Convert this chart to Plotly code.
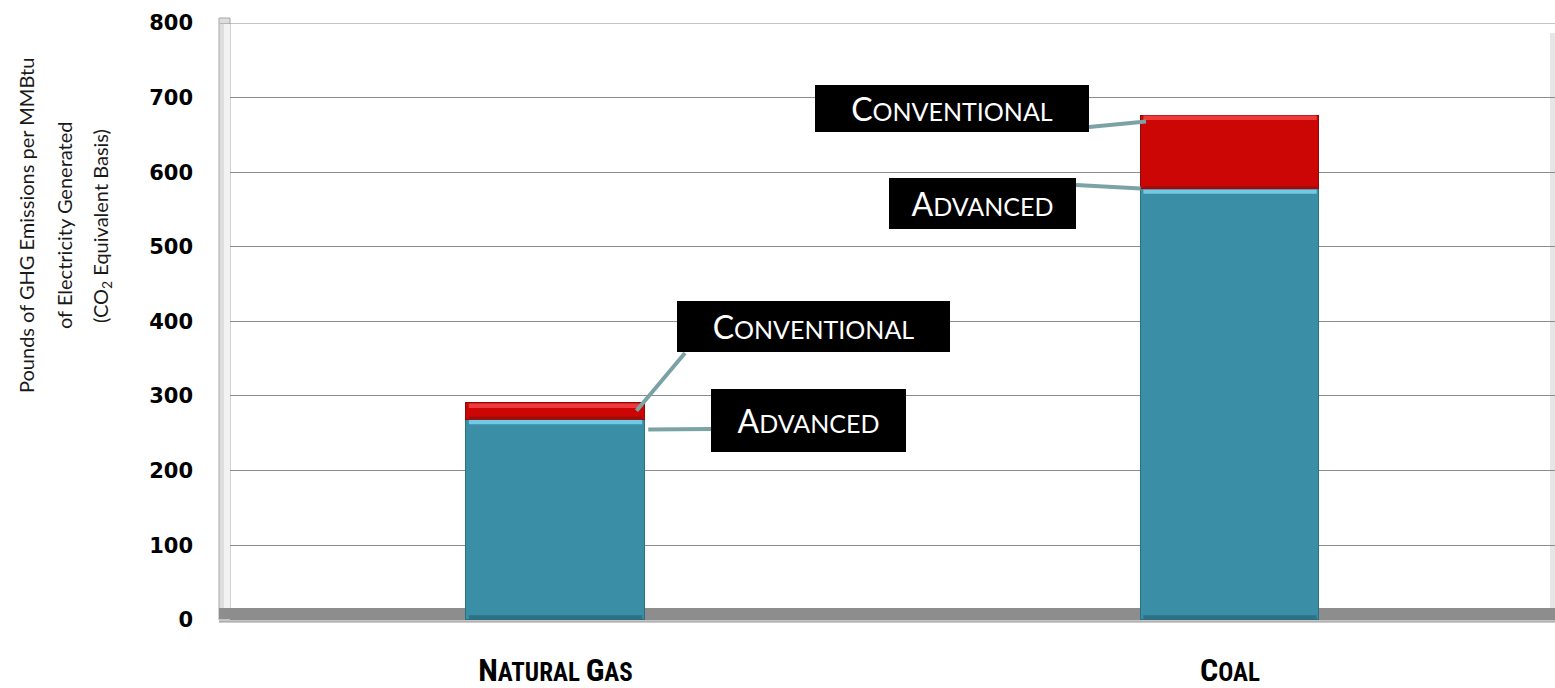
import plotly.graph_objects as go

# ---------------- data ----------------
categories = ["Natural Gas", "Coal"]
advanced = [268, 577]              # lbs CO2e / MMBtu, advanced technology
conventional_extra = [22, 99]      # additional amount for conventional technology
y_tick_values = [0, 100, 200, 300, 400, 500, 600, 700, 800]
y_title_lines = ["Pounds of GHG Emissions per MMBtu",
                 "of Electricity Generated",
                 "(CO<sub>2</sub> Equivalent Basis)"]

totals = [a + c for a, c in zip(advanced, conventional_extra)]
xpos = list(range(len(categories)))

# ---------------- geometry helpers (layout only) ----------------
W, H = 1555, 688
ML, MR, MT, MB = 230, 0, 23, 66
PW, PH = W - ML - MR, H - MT - MB
XR = [-0.4826, 1.4818]
YR = [-3, 800]
BAR_W = 0.265


def px_x(px):   # pixel -> x data
    return XR[0] + (px - ML) / PW * (XR[1] - XR[0])


def px_y(py):   # pixel -> y data
    return YR[1] - (py - MT) / PH * (YR[1] - YR[0])


def pap_x(px):
    return (px - ML) / PW


def pap_y(py):
    return (H - MB - py) / PH


def small_caps(text, big, small):
    out = []
    for word in text.split(" "):
        out.append(f"<span style='font-size:{big}px'>{word[0].upper()}</span>"
                   f"<span style='font-size:{small}px'>{word[1:].upper()}</span>")
    return " ".join(out)


fig = go.Figure()
fig.add_trace(go.Bar(
    x=xpos, y=advanced, width=BAR_W, name="Advanced",
    marker=dict(color="#3a8ea6", line=dict(color="#2b6f82", width=1)),
    hoverinfo="skip"))
fig.add_trace(go.Bar(
    x=xpos, y=conventional_extra, width=BAR_W, name="Conventional",
    marker=dict(color="#cc0505", line=dict(color="#8e0a0a", width=1)),
    hoverinfo="skip"))

shapes = []
# left wall
shapes.append(dict(type="rect", xref="paper", yref="paper",
                   x0=pap_x(219), x1=pap_x(230), y0=pap_y(620), y1=pap_y(18),
                   fillcolor="#dedede", line=dict(color="#a8a8a8", width=1), layer="below"))
shapes.append(dict(type="rect", xref="paper", yref="paper",
                   x0=pap_x(224), x1=pap_x(230), y0=pap_y(612), y1=pap_y(24),
                   fillcolor="#f2f2f2", line=dict(width=0), layer="below"))
# right wall hint
shapes.append(dict(type="rect", xref="paper", yref="paper",
                   x0=pap_x(1550), x1=pap_x(1555), y0=pap_y(610), y1=pap_y(33),
                   fillcolor="#e6e6e6", line=dict(width=0), layer="below"))
# floor
shapes.append(dict(type="rect", xref="paper", yref="paper",
                   x0=pap_x(219), x1=1, y0=pap_y(619), y1=pap_y(608),
                   fillcolor="#8d8d8d", line=dict(width=0), layer="between"))
shapes.append(dict(type="rect", xref="paper", yref="paper",
                   x0=pap_x(219), x1=1, y0=pap_y(622), y1=pap_y(619),
                   fillcolor="#c6c6c6", line=dict(width=0), layer="between"))
shapes.append(dict(type="line", xref="paper", yref="paper",
                   x0=pap_x(219), x1=1, y0=pap_y(622), y1=pap_y(622),
                   line=dict(color="#9a9a9a", width=1), layer="between"))
# top gridline at 800
shapes.append(dict(type="line", xref="paper", yref="y",
                   x0=pap_x(220), x1=1, y0=800, y1=800,
                   line=dict(color="#8c8c8c", width=1), layer="below"))

# bevel highlights on bars
for i in xpos:
    x0, x1 = i - BAR_W / 2 + 0.004, i + BAR_W / 2 - 0.004
    shapes.append(dict(type="rect", xref="x", yref="y", x0=x0, x1=x1,
                       y0=advanced[i] - 6, y1=advanced[i],
                       fillcolor="#72c9e3", line=dict(width=0), layer="above"))
    shapes.append(dict(type="rect", xref="x", yref="y", x0=x0, x1=x1,
                       y0=advanced[i], y1=advanced[i] + 4,
                       fillcolor="#9c0c0c", line=dict(width=0), layer="above"))
    shapes.append(dict(type="rect", xref="x", yref="y", x0=x0, x1=x1,
                       y0=totals[i] - 6, y1=totals[i],
                       fillcolor="#ee3a3a", line=dict(width=0), layer="above"))
    shapes.append(dict(type="rect", xref="x", yref="y", x0=x0, x1=x1,
                       y0=0, y1=6,
                       fillcolor="#2f7184", line=dict(width=0), layer="above"))

# connector lines (bar end from data, box end from layout)
LINE = dict(color="#7ba2a5", width=4)
shapes.append(dict(type="line", xref="x", yref="y",
                   x0=xpos[0] + 0.12, y0=advanced[0] + conventional_extra[0] * 0.55,
                   x1=px_x(685), y1=px_y(353), line=LINE, layer="above"))
shapes.append(dict(type="line", xref="x", yref="y",
                   x0=xpos[0] + BAR_W / 2 + 0.005, y0=advanced[0] - 13,
                   x1=px_x(711), y1=px_y(429), line=LINE, layer="above"))
shapes.append(dict(type="line", xref="x", yref="y",
                   x0=xpos[1] - BAR_W / 2 + 0.008, y0=totals[1] - 8,
                   x1=px_x(1089), y1=px_y(127), line=LINE, layer="above"))
shapes.append(dict(type="line", xref="x", yref="y",
                   x0=xpos[1] - BAR_W / 2, y0=advanced[1] + 1,
                   x1=px_x(1076), y1=px_y(185), line=LINE, layer="above"))

annotations = []


def label_box(text, left, top, right, bottom):
    annotations.append(dict(
        xref="paper", yref="paper",
        x=pap_x((left + right) / 2), y=pap_y((top + bottom) / 2),
        xanchor="center", yanchor="middle",
        text=small_caps(text, 32, 25), showarrow=False,
        font=dict(family="Lato, Open Sans, sans-serif", color="white", size=25),
        bgcolor="black", borderpad=0, borderwidth=0,
        width=right - left, height=bottom - top, align="center", valign="middle"))


label_box("Conventional", 677, 301, 950, 352)
label_box("Advanced", 711, 389, 906, 452)
label_box("Conventional", 815, 85, 1089, 132)
label_box("Advanced", 889, 178, 1076, 229)

# y-axis title (three rotated lines)
for k, (line, xc) in enumerate(zip(y_title_lines, [26, 64, 101])):
    annotations.append(dict(
        xref="paper", yref="paper", x=pap_x(xc), y=pap_y(226),
        xanchor="center", yanchor="middle", textangle=-90,
        text=line, showarrow=False,
        font=dict(family="Lato, Open Sans, sans-serif", size=20, color="#1a1a1a")))

fig.update_layout(
    width=W, height=H,
    margin=dict(l=ML, r=MR, t=MT, b=MB, pad=0, autoexpand=False),
    barmode="stack", bargap=0,
    showlegend=False,
    plot_bgcolor="white", paper_bgcolor="white",
    shapes=shapes, annotations=annotations,
    xaxis=dict(range=XR, tickvals=xpos, automargin=False,
               ticktext=[small_caps(c, 32, 25) for c in categories],
               tickfont=dict(family="Liberation Sans Narrow, Roboto Condensed, Liberation Sans, sans-serif",
                             size=25, color="black", weight=700),
               ticklabelstandoff=33,
               showgrid=False, zeroline=False, showline=False, ticks=""),
    yaxis=dict(range=YR, tickvals=y_tick_values, automargin=False,
               tickfont=dict(family="DejaVu Sans, sans-serif", size=21, color="black", weight=700),
               ticklabelstandoff=36,
               showgrid=True, gridcolor="#8c8c8c", gridwidth=1,
               zeroline=False, showline=False, ticks=""),
)

fig.write_html("out.html", config={"displayModeBar": False},
               post_script="document.body.style.margin='0';document.body.style.overflow='hidden';")
